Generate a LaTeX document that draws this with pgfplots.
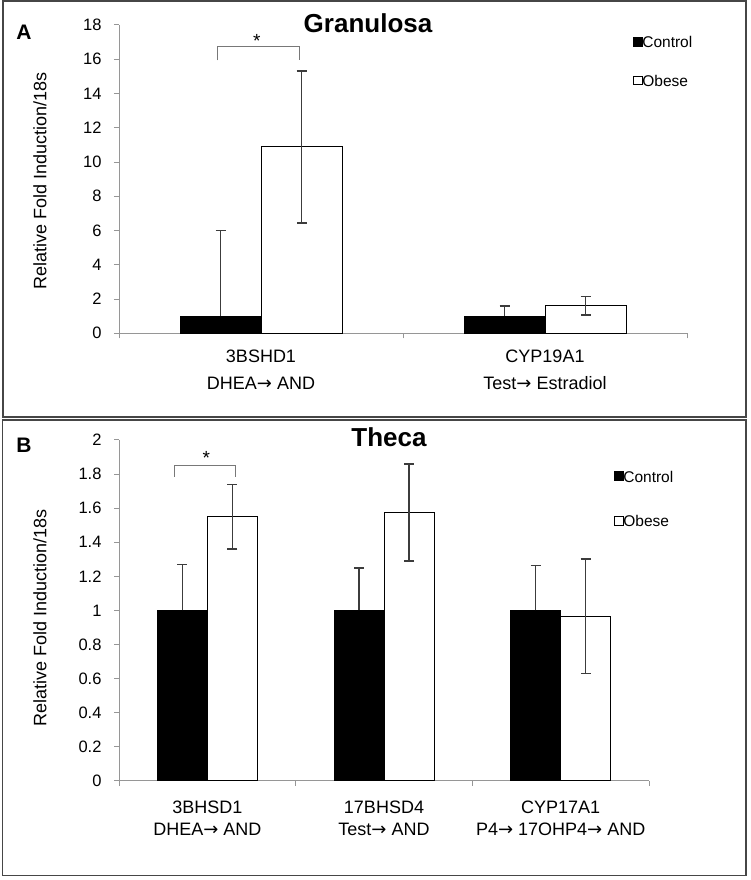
\documentclass[border=0pt]{standalone}
\usepackage{fontspec}
\setmainfont{Liberation Sans}
\newfontfamily\arr{DejaVu Sans}
\usepackage{pgfplots}
\pgfplotsset{compat=1.18}
\definecolor{axisgray}{RGB}{150,150,150}
\definecolor{errgray}{RGB}{60,60,60}
\definecolor{framegray}{RGB}{70,70,70}
\definecolor{brgray}{RGB}{120,120,120}
\newcommand{\ra}{{\arr →}}

\pgfplotsset{
  common/.style={
    scale only axis,
    axis lines*=left,
    axis line style={draw=axisgray, line width=1pt, -},
    tick align=outside,
    major tick length=5pt, minor tick length=5pt,
    major x tick style={draw=none},
    minor x tick style={draw=axisgray, line width=1pt},
    ytick style={draw=axisgray, line width=1pt},
    ymin=0,
    clip=false,
    /pgf/number format/assume math mode=true,
    yticklabel style={font=\fontsize{16.5}{19}\selectfont, xshift=-9pt},
    xticklabel style={align=center},
    legend cell align=left,
    legend style={draw=none, fill=none, inner sep=0pt, outer sep=0pt,
      font=\fontsize{15.5}{18}\selectfont, nodes={inner sep=0pt},
      /tikz/every even column/.append style={column sep=2pt}},
  },
  sq/.style={legend image code/.code={\draw[##1, line width=0.8pt] (0pt,-3pt) rectangle (8.5pt,5.5pt);}},
  ctrl/.style={ybar, bar width=#1, bar shift=0pt, fill=black, draw=black, line width=1pt, sq,
    error bars/.cd, y dir=plus, y explicit, error mark=-,
    error bar style={errgray, line width=1.3pt},
    error mark options={rotate=90, errgray, line width=1.3pt, mark size=5pt}},
  obes/.style={ybar, bar width=#1, bar shift=0pt, fill=white, draw=black, line width=1pt, sq,
    error bars/.cd, y dir=both, y explicit, error mark=-,
    error bar style={errgray, line width=1.3pt},
    error mark options={rotate=90, errgray, line width=1.3pt, mark size=5pt}},
}

\begin{document}
\begin{tikzpicture}
\useasboundingbox (0pt,0pt) rectangle (751pt,880pt);
% frames
\draw[framegray, line width=2pt] (2.5pt,878.5pt) rectangle (746pt,463pt);
\draw[framegray, line width=1.4pt] (2.5pt,460pt) rectangle (746pt,4.5pt);

% ---------------- Panel A ----------------
\node[font=\bfseries\fontsize{21}{21}\selectfont] at (24pt,848pt) {A};
\node[font=\bfseries\fontsize{26}{26}\selectfont] at (368pt,857pt) {Granulosa};
\node[font=\fontsize{18}{18}\selectfont, rotate=90] at (40pt,699pt) {Relative Fold Induction/18s};

\begin{axis}[common,
  at={(119pt,546.7pt)}, anchor=south west,
  width=568pt, height=308.3pt,
  xmin=-0.5, xmax=1.5, ymax=18,
  ytick={0,2,4,6,8,10,12,14,16,18},
  xtick={0,1},
  xticklabels={3BSHD1\\DHEA\ra\ AND, CYP19A1\\Test\ra\ Estradiol},
  minor xtick={-0.5,0.5,1.5},
  xticklabel style={font=\fontsize{18}{26.7}\selectfont, yshift=-8pt},
  legend style={at={(0.905,0.962)}, anchor=north west, row sep=26pt}]
\addplot[ctrl=81pt] coordinates {(-0.1426,1) +- (0,5.0) (0.8574,1) +- (0,0.59)};
\addlegendentry{Control}
\addplot[obes=81pt] coordinates {(0.1426,10.88) +- (0,4.44) (1.1426,1.6) +- (0,0.54)};
\addlegendentry{Obese}
\addplot[brgray, line width=0.9pt, sharp plot, no markers, forget plot]
  coordinates {(-0.155,15.93) (-0.155,16.74) (0.134,16.74) (0.134,15.93)};
\node[font=\fontsize{19}{19}\selectfont, anchor=base] at (axis cs:-0.015,16.7) {*};
\end{axis}

% ---------------- Panel B ----------------
\node[font=\bfseries\fontsize{21}{21}\selectfont] at (24pt,435pt) {B};
\node[font=\bfseries\fontsize{26}{26}\selectfont] at (389pt,443pt) {Theca};
\node[font=\fontsize{18}{18}\selectfont, rotate=90] at (40pt,262pt) {Relative Fold Induction/18s};

\begin{axis}[common,
  at={(119pt,99pt)}, anchor=south west,
  width=530pt, height=341pt,
  xmin=-0.5, xmax=2.5, ymax=2,
  ytick={0,0.2,0.4,0.6,0.8,1,1.2,1.4,1.6,1.8,2},
  xtick={0,1,2},
  xticklabels={3BHSD1\\DHEA\ra\ AND, 17BHSD4\\Test\ra\ AND, CYP17A1\\P4\ra\ 17OHP4\ra\ AND},
  minor xtick={-0.5,0.5,1.5,2.5},
  xticklabel style={font=\fontsize{18}{22}\selectfont, yshift=-11pt},
  legend style={at={(0.934,0.909)}, anchor=north west, row sep=32pt}]
\addplot[ctrl=50pt] coordinates {(-0.1415,1) +- (0,0.268) (0.8585,1) +- (0,0.25) (1.8585,1) +- (0,0.265)};
\addlegendentry{Control}
\addplot[obes=50pt] coordinates {(0.1415,1.55) +- (0,0.19) (1.1415,1.575) +- (0,0.285) (2.1415,0.966) +- (0,0.336)};
\addlegendentry{Obese}
\addplot[brgray, line width=0.9pt, sharp plot, no markers, forget plot]
  coordinates {(-0.185,1.785) (-0.185,1.853) (0.157,1.853) (0.157,1.785)};
\node[font=\fontsize{19}{19}\selectfont, anchor=base] at (axis cs:-0.006,1.855) {*};
\end{axis}
\end{tikzpicture}
\end{document}
